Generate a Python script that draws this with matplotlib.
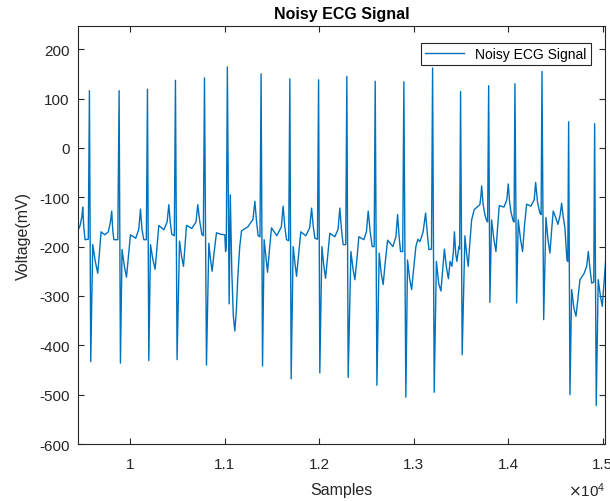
import matplotlib
matplotlib.use("Agg")
import matplotlib.pyplot as plt

plt.rcParams['font.family'] = ['Liberation Sans', 'DejaVu Sans']
plt.rcParams['axes.unicode_minus'] = False

# vertices of the noisy ECG trace (sample index, mV)
# one line per heartbeat, R peak first
samples = [
    9447, 9470, 9490, 9499, 9510, 9524, 9558,
    9570, 9584, 9605, 9630, 9658, 9675, 9693, 9732, 9770, 9792, 9806, 9816, 9828, 9870,
    9884, 9898, 9915, 9940, 9962, 9983, 10004, 10060, 10092, 10110, 10126, 10145, 10172,
    10184, 10198, 10216, 10240, 10265, 10285, 10304, 10357, 10392, 10410, 10425, 10441, 10468,
    10480, 10497, 10523, 10545, 10565, 10582, 10597, 10653, 10698, 10716, 10738, 10759, 10775,
    10787, 10808, 10833, 10850, 10868, 10890, 10914, 10960, 11002, 11010, 11018,
    11029, 11048, 11060, 11076, 11092, 11108, 11124, 11140, 11160, 11179, 11245, 11300, 11320, 11338, 11355, 11374,
    11386, 11401, 11418, 11436, 11454, 11475, 11496, 11552, 11600, 11619, 11637, 11655, 11678,
    11690, 11704, 11725, 11745, 11761, 11783, 11806, 11859, 11900, 11920, 11938, 11955, 11982,
    11994, 12007, 12029, 12050, 12068, 12090, 12113, 12166, 12200, 12219, 12236, 12254, 12281,
    12293, 12307, 12336, 12358, 12378, 12400, 12420, 12473, 12500, 12519, 12540, 12561, 12582,
    12593, 12611, 12635, 12657, 12677, 12700, 12724, 12780, 12812, 12830, 12846, 12861, 12884,
    12896, 12917, 12935, 12957, 12978, 13000, 13023, 13045, 13066, 13100, 13126, 13145, 13161, 13188,
    13200, 13217, 13240, 13265, 13288, 13305, 13325, 13345, 13367, 13385, 13404, 13420, 13431, 13445, 13457, 13478, 13486,
    13496, 13513, 13542, 13560, 13577, 13595, 13613, 13640, 13658, 13700, 13710, 13719, 13735, 13753, 13771, 13782,
    13793, 13806, 13824, 13848, 13870, 13888, 13905, 13955, 13985, 14000, 14015, 14029, 14053, 14062,
    14071, 14089, 14106, 14130, 14152, 14173, 14195, 14240, 14275, 14290, 14310, 14335, 14348,
    14357, 14375, 14399, 14420, 14441, 14460, 14476, 14500, 14526, 14550, 14565, 14582, 14600, 14621, 14630,
    14639, 14653, 14671, 14695, 14717, 14740, 14759, 14801, 14830, 14847, 14865, 14883, 14905,
    14914, 14931, 14952, 14975, 14995, 15015, 15034,
]
voltage = [
    -168, -158, -140, -120, -160, -186, -185,
    116, -433, -196, -228, -254, -215, -170, -176, -170, -150, -128, -165, -186, -186,
    116, -436, -206, -240, -262, -220, -176, -183, -165, -124, -165, -186, -186,
    119, -431, -196, -225, -246, -200, -157, -166, -150, -115, -150, -175, -178,
    137, -429, -189, -220, -240, -195, -157, -163, -150, -115, -150, -175, -178,
    142, -440, -193, -225, -250, -210, -172, -175, -176, -210, -200,
    164, -316, -95, -250, -340, -371, -330, -260, -200, -168, -160, -145, -108, -150, -178, -180,
    150, -442, -186, -220, -252, -205, -162, -178, -160, -118, -160, -186, -188,
    140, -468, -200, -235, -260, -215, -170, -178, -162, -122, -160, -183, -185,
    138, -456, -200, -240, -264, -220, -173, -180, -165, -122, -165, -196, -196,
    145, -465, -210, -245, -267, -225, -180, -186, -170, -128, -170, -200, -200,
    135, -481, -213, -255, -277, -230, -187, -200, -180, -135, -180, -210, -210,
    134, -505, -227, -265, -287, -245, -200, -185, -190, -170, -132, -175, -206, -205,
    162, -495, -230, -275, -290, -250, -205, -240, -265, -230, -240, -210, -170, -215, -230, -200, -205,
    114, -419, -178, -215, -240, -190, -146, -125, -122, -115, -100, -77, -115, -135, -147, -150,
    126, -313, -146, -185, -210, -160, -117, -120, -105, -73, -110, -130, -148, -150,
    130, -314, -146, -185, -210, -155, -114, -118, -105, -70, -110, -132, -135,
    155, -348, -141, -185, -213, -165, -128, -140, -155, -135, -112, -140, -162, -227, -230,
    53, -500, -287, -325, -341, -300, -267, -255, -240, -210, -245, -274, -272,
    49, -522, -267, -300, -321, -270, -220,
]
assert len(samples) == len(voltage)

x_ticks = [10000, 11000, 12000, 13000, 14000, 15000]
x_tick_labels = ['1', '1.1', '1.2', '1.3', '1.4', '1.5']
y_ticks = [-600, -500, -400, -300, -200, -100, 0, 100, 200]

fig = plt.figure(figsize=(6.1, 5.02), dpi=100)
ax = fig.add_axes([0.128, 0.1135, 0.864, 0.8327])

ax.plot(samples, voltage, color='#0072BD', linewidth=1.0, label='Noisy ECG Signal')

ax.set_xlim(9450, 15025)
ax.set_ylim(-600, 247)
ax.set_xticks(x_ticks)
ax.set_xticklabels(x_tick_labels)
ax.set_yticks(y_ticks)

gray = '#262626'
for s in ax.spines.values():
    s.set_color(gray)
    s.set_linewidth(0.8)
ax.tick_params(direction='in', top=True, right=True, length=4, width=0.8,
               colors=gray, labelsize=11)
ax.tick_params(axis='x', pad=9)
ax.tick_params(axis='y', pad=6)

ax.set_title('Noisy ECG Signal', fontsize=11.5, fontweight='bold', pad=6)
ax.set_xlabel('Samples', fontsize=11.5, color=gray, labelpad=8)
ax.set_ylabel('Voltage(mV)', fontsize=11.5, color=gray, labelpad=6)
ax.text(1.0, -0.088, r'$\times\mathregular{10^4}$', transform=ax.transAxes,
        ha='right', va='top', fontsize=11, color=gray)

leg = ax.legend(loc='upper right', bbox_to_anchor=(0.973, 0.959), borderaxespad=0,
                fancybox=False, framealpha=1, edgecolor=gray, fontsize=10,
                handlelength=2.8, borderpad=0.3)
leg.get_frame().set_linewidth(0.8)

fig.savefig('out.png', dpi=100)
